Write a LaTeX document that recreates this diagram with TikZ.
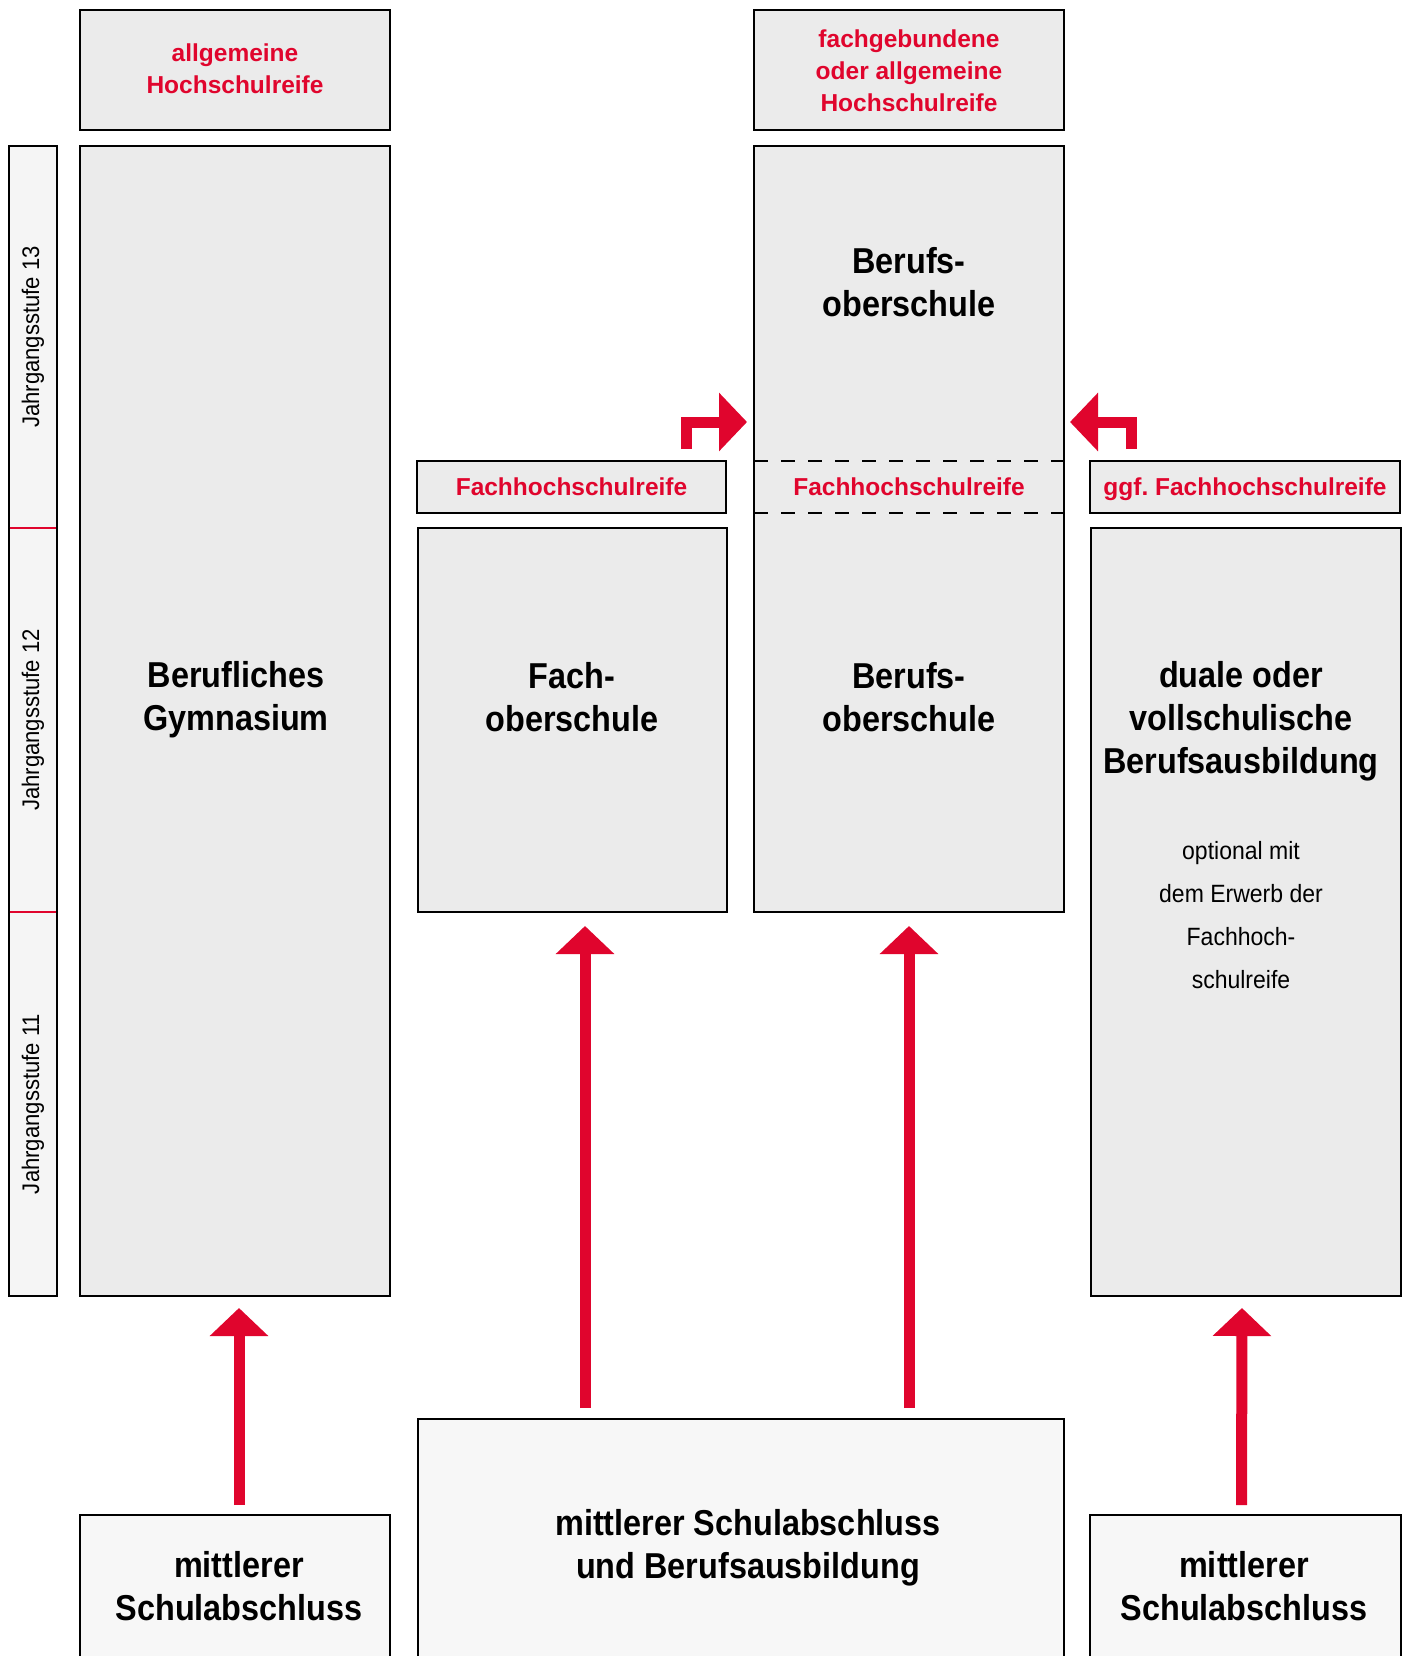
\documentclass[tikz,border=0pt]{standalone}
\usepackage{fontspec}
\setmainfont{Liberation Sans}
\newfontfamily\condfont[FakeStretch=0.9]{Liberation Sans}
\newfontfamily\narrowfont[FakeStretch=0.92]{Liberation Sans}
\usetikzlibrary{arrows.meta,calc}
\definecolor{hsred}{RGB}{224,5,45}
\definecolor{boxgray}{RGB}{235,235,235}
\definecolor{basegray}{RGB}{247,247,247}
\definecolor{sidegray}{RGB}{245,245,245}
\tikzset{
	cellbox/.style={draw=black, line width=2pt, fill=boxgray, inner sep=0pt, outer sep=0pt, anchor=north west},
	basebox/.style={cellbox, fill=basegray},
	degree/.style={text=hsred, font=\bfseries\fontsize{24.5}{32}\selectfont, align=center, inner sep=0pt},
	schoolname/.style={font=\condfont\bfseries\fontsize{36}{43}\selectfont, align=center, inner sep=0pt},
	remark/.style={font=\narrowfont\fontsize{25}{43}\selectfont, align=center, inner sep=0pt},
	grade/.style={font=\narrowfont\fontsize{24}{28}\selectfont, rotate=90, inner sep=0pt},
	uparrow/.style={draw=hsred, line width=11pt, line join=miter, -{Triangle[length=28pt,width=57pt]}},
	dashline/.style={line width=2pt, dash pattern=on 14pt off 13pt},
}

\begin{document}
\begin{tikzpicture}[x=1pt, y=-1pt]
	%%%%% START %%%%%
	\useasboundingbox (0, 0) rectangle (1406, 1656);
	\clip (0, 0) rectangle (1406, 1656);
	\fill[white] (0, 0) rectangle (1406, 1656);
	
	% Jahrgangsstufen
	\node[cellbox, fill=sidegray, minimum width=48.5pt, minimum height=1150pt] (side) at (8.5, 146) {};
	
	% Berufliches Gymnasium
	\node[cellbox, minimum width=310pt, minimum height=119.5pt] (ahr) at (80, 10.5) {};
	\node[degree] (ahrtext) at ([yshift=2pt]ahr.center) {allgemeine\\Hochschulreife};
	\node[cellbox, minimum width=310pt, minimum height=1150pt] (gym) at (80, 146) {};
	\node[schoolname] (gymtext) at (236, 700) {Berufliches\\Gymnasium};
	
	% Fachoberschule
	\node[cellbox, minimum width=309pt, minimum height=52.5pt] (fhrA) at (417, 460.5) {};
	\node[degree] (fhrAtext) at (fhrA.center) {Fachhochschulreife};
	\node[cellbox, minimum width=309pt, minimum height=384pt] (fos) at (418, 528) {};
	\node[schoolname] (fostext) at (572, 697) {Fach-\\oberschule};
	
	% Berufsoberschule
	\node[cellbox, minimum width=310pt, minimum height=119.5pt] (hr) at (754, 10.5) {};
	\node[degree] (hrtext) at (hr.center) {fachgebundene\\oder allgemeine\\Hochschulreife};
	\node[cellbox, minimum width=310pt, minimum height=766pt] (bos) at (754, 146) {};
	\node[schoolname] (bostop) at (909, 282) {Berufs-\\oberschule};
	\draw[dashline] (bos.west |- fhrA.north) -- (bos.east |- fhrA.north);
	\draw[dashline] (bos.west |- fhrA.south) -- (bos.east |- fhrA.south);
	\node[degree] (fhrB) at (bos.center |- fhrA.center) {Fachhochschulreife};
	\node[schoolname] (bosbottom) at (909, 697) {Berufs-\\oberschule};
	
	% Berufsausbildung
	\node[cellbox, minimum width=310pt, minimum height=52.5pt] (fhrC) at (1090, 460.5) {};
	\node[degree] (fhrCtext) at ([yshift=-2pt]fhrC.center) {ggf.\ Fachhochschulreife};
	\node[cellbox, minimum width=310pt, minimum height=768pt] (dual) at (1091, 528) {};
	\node[schoolname] (dualtext) at (1241, 721) {duale oder\\vollschulische\\Berufsausbildung};
	\node[remark] (dualnote) at (1241, 915) {optional mit\\dem Erwerb der\\Fachhoch-\\schulreife};
	
	% Jahrgangsstufen, Trennlinien
	\draw[hsred, line width=2pt, shorten <=1pt, shorten >=1pt] (side.west |- fos.north) -- (side.east |- fos.north);
	\draw[hsred, line width=2pt, shorten <=1pt, shorten >=1pt] (side.west |- fos.south) -- (side.east |- fos.south);
	\node[grade] (j13) at (33, 337) {Jahrgangsstufe 13};
	\node[grade] (j12) at (33, 720) {Jahrgangsstufe 12};
	\node[grade] (j11) at (33, 1104) {Jahrgangsstufe 11};
	
	% Abschluesse
	\node[basebox, minimum width=310pt, minimum height=200pt] (msA) at (80, 1515) {};
	\node[schoolname] (msAtext) at (239, 1586) {mittlerer\\Schulabschluss};
	\node[basebox, minimum width=646pt, minimum height=300pt] (msB) at (418, 1419) {};
	\node[schoolname] (msBtext) at (748, 1548) {mittlerer Schulabschluss\\und Berufsausbildung};
	\node[basebox, minimum width=311pt, minimum height=200pt] (msC) at (1090, 1515) {};
	\node[schoolname] (msCtext) at (1244, 1586) {mittlerer\\Schulabschluss};
	
	% Pfeile
	\coordinate (arrA) at (585, 0);
	\draw[uparrow, shorten <=10pt, shorten >=12pt] ([xshift=4pt]msA.north) -- ([xshift=4pt]gym.south);
	\draw[uparrow, shorten <=11pt, shorten >=14pt] (msB.north -| arrA) -- (fos.south -| arrA);
	\draw[uparrow, shorten <=11pt, shorten >=14pt] (msB.north -| bos.south) -- (bos.south);
	\draw[uparrow, shorten <=10pt, shorten >=12pt] ([xshift=-4pt]msC.north) -- ([xshift=-4pt]dual.south);
	
	\coordinate (bendA) at (686.5, 449);
	\coordinate (kinkA) at (686.5, 422);
	\draw[uparrow, shorten >=7pt] (bendA) -- (kinkA) -- (kinkA -| bos.west);
	\coordinate (bendC) at (1131.5, 449);
	\coordinate (kinkC) at (1131.5, 422);
	\draw[uparrow, shorten >=6pt] (bendC) -- (kinkC) -- (kinkC -| bos.east);
	%%%%% END %%%%%
\end{tikzpicture}
\end{document}
